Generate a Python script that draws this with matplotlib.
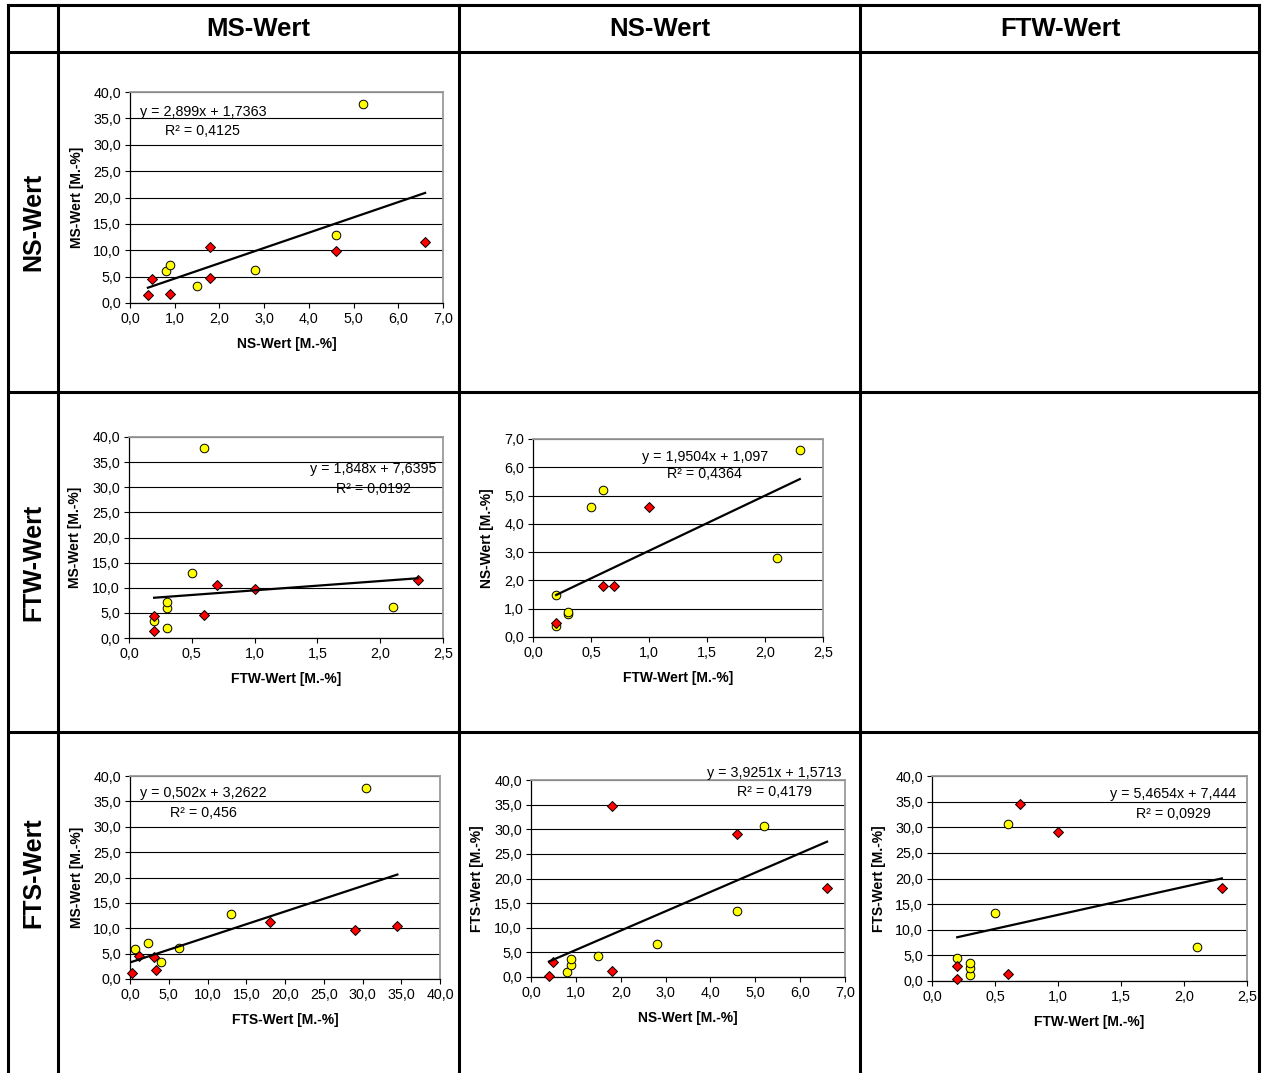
import matplotlib
matplotlib.use("Agg")
import matplotlib.pyplot as plt
from matplotlib.lines import Line2D
import numpy as np

plt.rcParams['font.family'] = ['Liberation Sans', 'DejaVu Sans']

# ---------------- data ----------------
col_headers = ["MS-Wert", "NS-Wert", "FTW-Wert"]
row_headers = ["NS-Wert", "FTW-Wert", "FTS-Wert"]

# NS (x) vs MS (y)
ns_ms_yel_x = [0.8, 0.9, 1.5, 2.8, 4.6, 5.2]
ns_ms_yel_y = [6.0, 7.2, 3.3, 6.3, 12.9, 37.8]
ns_ms_red_x = [0.4, 0.5, 0.9, 1.8, 1.8, 4.6, 6.6]
ns_ms_red_y = [1.6, 4.5, 1.8, 10.6, 4.7, 9.8, 11.5]
ns_ms_fit = (2.899, 1.7363)
ns_ms_eq = ["y = 2,899x + 1,7363", "R² = 0,4125"]

# FTW (x) vs MS (y)
ftw_ms_yel_x = [0.2, 0.3, 0.3, 0.3, 0.5, 0.6, 2.1]
ftw_ms_yel_y = [3.4, 1.9, 5.9, 7.2, 12.9, 37.8, 6.2]
ftw_ms_red_x = [0.2, 0.2, 0.6, 0.7, 1.0, 2.3]
ftw_ms_red_y = [1.3, 4.3, 4.5, 10.5, 9.7, 11.5]
ftw_ms_fit = (1.848, 7.6395)
ftw_ms_eq = ["y = 1,848x + 7,6395", "R² = 0,0192"]

# FTW (x) vs NS (y)
ftw_ns_yel_x = [0.2, 0.2, 0.3, 0.3, 0.5, 0.6, 2.1, 2.3]
ftw_ns_yel_y = [0.4, 1.5, 0.8, 0.9, 4.6, 5.2, 2.8, 6.6]
ftw_ns_red_x = [0.2, 0.6, 0.7, 1.0]
ftw_ns_red_y = [0.5, 1.8, 1.8, 4.6]
ftw_ns_fit = (1.9504, 1.097)
ftw_ns_eq = ["y = 1,9504x + 1,097", "R² = 0,4364"]

# FTS (x) vs MS (y)
fts_ms_yel_x = [0.7, 2.3, 4.0, 6.3, 13.0, 30.5]
fts_ms_yel_y = [5.9, 7.1, 3.3, 6.2, 12.8, 37.7]
fts_ms_red_x = [0.2, 1.1, 3.1, 3.4, 18.1, 29.0, 34.5]
fts_ms_red_y = [1.2, 4.5, 4.3, 1.7, 11.3, 9.6, 10.4]
fts_ms_fit = (0.502, 3.2622)
fts_ms_eq = ["y = 0,502x + 3,2622", "R² = 0,456"]

# NS (x) vs FTS (y)
ns_fts_yel_x = [0.8, 0.9, 0.9, 1.5, 2.8, 4.6, 5.2]
ns_fts_yel_y = [1.1, 2.4, 3.6, 4.2, 6.8, 13.4, 30.7]
ns_fts_red_x = [0.4, 0.5, 1.8, 1.8, 4.6, 6.6]
ns_fts_red_y = [0.2, 3.0, 1.3, 34.7, 29.1, 18.1]
ns_fts_fit = (3.9251, 1.5713)
ns_fts_eq = ["y = 3,9251x + 1,5713", "R² = 0,4179"]

# FTW (x) vs FTS (y)
ftw_fts_yel_x = [0.2, 0.3, 0.3, 0.3, 0.5, 0.6, 2.1]
ftw_fts_yel_y = [4.4, 1.1, 2.6, 3.6, 13.3, 30.7, 6.6]
ftw_fts_red_x = [0.2, 0.2, 0.6, 0.7, 1.0, 2.3]
ftw_fts_red_y = [0.3, 2.9, 1.3, 34.5, 29.1, 18.1]
ftw_fts_fit = (5.4654, 7.444)
ftw_fts_eq = ["y = 5,4654x + 7,444", "R² = 0,0929"]

# ---------------- layout ----------------
W, H = 1262, 1073
fig = plt.figure(figsize=(W / 100, H / 100), dpi=100)
fig.patch.set_facecolor("white")

def fx(px):
    return px / W

def fy(py):
    return 1 - py / H

# table lines
lw_tab = 2.2
for xv in [8, 58, 459, 860, 1259]:
    fig.add_artist(Line2D([fx(xv), fx(xv)], [fy(5), fy(1073)], color="black", lw=lw_tab))
for yv in [5, 52, 392, 732]:
    fig.add_artist(Line2D([fx(8), fx(1259)], [fy(yv), fy(yv)], color="black", lw=lw_tab))

col_centers = [258.5, 659.5, 1060]
for c, t in zip(col_centers, col_headers):
    fig.text(fx(c), fy(28.5), t, ha="center", va="center", fontsize=18.5, fontweight="bold")
row_centers = [222, 562, 873]
for r, t in zip(row_centers, row_headers):
    fig.text(fx(33), fy(r), t, ha="center", va="center", fontsize=18, fontweight="bold", rotation=90)

panels = [
    dict(box=(130, 92, 443, 303), yx=ns_ms_yel_x, yy=ns_ms_yel_y, rx=ns_ms_red_x, ry=ns_ms_red_y,
         fit=ns_ms_fit, eq=ns_ms_eq, xlim=(0, 7), xstep=1.0, ylim=(0, 40), ystep=5.0,
         xlabel="NS-Wert [M.-%]", ylabel="MS-Wert [M.-%]", eqpos=(0.233, 0.907, 0.817)),
    dict(box=(129, 437, 443, 638), yx=ftw_ms_yel_x, yy=ftw_ms_yel_y, rx=ftw_ms_red_x, ry=ftw_ms_red_y,
         fit=ftw_ms_fit, eq=ftw_ms_eq, xlim=(0, 2.5), xstep=0.5, ylim=(0, 40), ystep=5.0,
         xlabel="FTW-Wert [M.-%]", ylabel="MS-Wert [M.-%]", eqpos=(0.778, 0.841, 0.741)),
    dict(box=(533, 439, 823, 637), yx=ftw_ns_yel_x, yy=ftw_ns_yel_y, rx=ftw_ns_red_x, ry=ftw_ns_red_y,
         fit=ftw_ns_fit, eq=ftw_ns_eq, xlim=(0, 2.5), xstep=0.5, ylim=(0, 7), ystep=1.0,
         xlabel="FTW-Wert [M.-%]", ylabel="NS-Wert [M.-%]", eqpos=(0.592, 0.911, 0.823)),
    dict(box=(130, 776, 440, 979), yx=fts_ms_yel_x, yy=fts_ms_yel_y, rx=fts_ms_red_x, ry=fts_ms_red_y,
         fit=fts_ms_fit, eq=fts_ms_eq, xlim=(0, 40), xstep=5.0, ylim=(0, 40), ystep=5.0,
         xlabel="FTS-Wert [M.-%]", ylabel="MS-Wert [M.-%]", eqpos=(0.237, 0.915, 0.816)),
    dict(box=(531, 780, 845, 977), yx=ns_fts_yel_x, yy=ns_fts_yel_y, rx=ns_fts_red_x, ry=ns_fts_red_y,
         fit=ns_fts_fit, eq=ns_fts_eq, xlim=(0, 7), xstep=1.0, ylim=(0, 40), ystep=5.0,
         xlabel="NS-Wert [M.-%]", ylabel="FTS-Wert [M.-%]", eqpos=(0.775, 1.037, 0.941)),
    dict(box=(932, 776, 1247, 981), yx=ftw_fts_yel_x, yy=ftw_fts_yel_y, rx=ftw_fts_red_x, ry=ftw_fts_red_y,
         fit=ftw_fts_fit, eq=ftw_fts_eq, xlim=(0, 2.5), xstep=0.5, ylim=(0, 40), ystep=5.0,
         xlabel="FTW-Wert [M.-%]", ylabel="FTS-Wert [M.-%]", eqpos=(0.766, 0.911, 0.815)),
]

def comma(v, _=None):
    return f"{v:.1f}".replace(".", ",")

for p in panels:
    l, t, r, b = p["box"]
    ax = fig.add_axes([fx(l), fy(b), (r - l) / W, (b - t) / H])
    ax.set_xlim(*p["xlim"])
    ax.set_ylim(*p["ylim"])
    xt = np.arange(p["xlim"][0], p["xlim"][1] + 1e-9, p["xstep"])
    yt = np.arange(p["ylim"][0], p["ylim"][1] + 1e-9, p["ystep"])
    ax.set_xticks(xt)
    ax.set_yticks(yt)
    ax.xaxis.set_major_formatter(matplotlib.ticker.FuncFormatter(comma))
    ax.yaxis.set_major_formatter(matplotlib.ticker.FuncFormatter(comma))
    ax.tick_params(direction="out", length=3.5, width=0.8, labelsize=10.3, pad=3, colors="black")
    ax.yaxis.grid(True, color="black", lw=0.8)
    ax.set_axisbelow(True)
    for s in ["left", "bottom"]:
        ax.spines[s].set_color("black")
        ax.spines[s].set_linewidth(0.9)
    for s in ["top", "right"]:
        ax.spines[s].set_color("#9a9a9a")
        ax.spines[s].set_linewidth(1.3)
    ax.set_xlabel(p["xlabel"], fontsize=10, fontweight="bold", labelpad=8)
    ax.set_ylabel(p["ylabel"], fontsize=10, fontweight="bold", labelpad=7)

    ax.plot(p["yx"], p["yy"], linestyle="none", marker="o", ms=6.2, mfc="#FFFF00",
            mec="black", mew=0.7, clip_on=False, zorder=3)
    ax.plot(p["rx"], p["ry"], linestyle="none", marker="D", ms=4.9, mfc="#FF0000",
            mec="black", mew=0.7, clip_on=False, zorder=3)
    allx = np.array(list(p["yx"]) + list(p["rx"]))
    xs = np.array([allx.min(), allx.max()])
    a, c0 = p["fit"]
    ax.plot(xs, a * xs + c0, color="black", lw=1.6, zorder=4)

    xc, y1, y2 = p["eqpos"]
    ax.text(xc, y1, p["eq"][0], transform=ax.transAxes, ha="center", va="center", fontsize=10.3, zorder=5)
    ax.text(xc, y2, p["eq"][1], transform=ax.transAxes, ha="center", va="center", fontsize=10.3, zorder=5)

fig.savefig("out.png", dpi=100, facecolor="white")
